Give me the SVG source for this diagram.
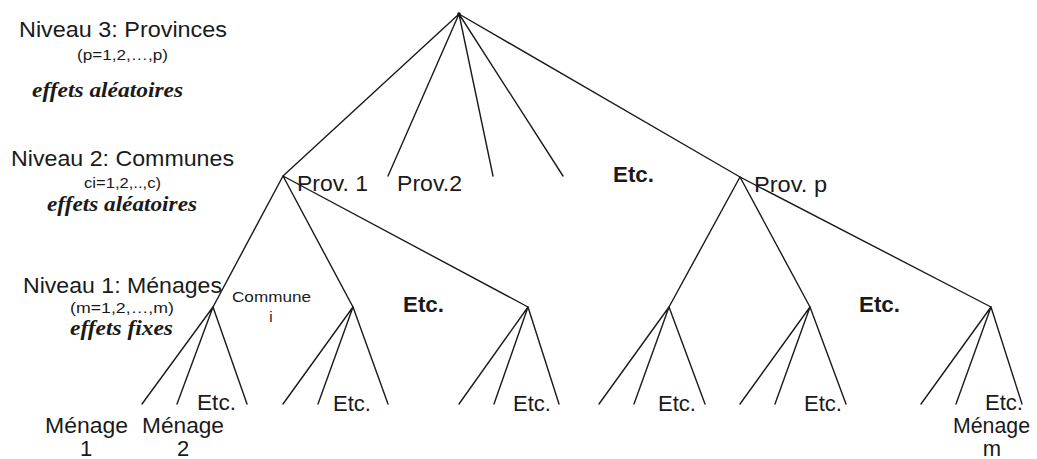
<svg xmlns="http://www.w3.org/2000/svg" width="1037" height="459" viewBox="0 0 1037 459">
<style>
.e{stroke:#1a1a1a;stroke-width:1.4;fill:none;stroke-linecap:round}
.t{font-family:"Liberation Sans",Arial,sans-serif;fill:#1a1a1a}
.l{font-size:22px}
.s{font-size:14px}
.c{font-size:15px}
.b{font-size:22px;font-weight:bold}
.r{font-family:"Liberation Serif","Times New Roman",serif;font-weight:bold;font-style:italic;font-size:20px;fill:#1a1a1a}
</style>
<rect width="1037" height="459" fill="#fff"/>
<g id="legend">
<text class="t l" x="19" y="37" textLength="208" lengthAdjust="spacingAndGlyphs">Niveau 3: Provinces</text>
<text class="t s" x="77" y="60" textLength="91" lengthAdjust="spacingAndGlyphs">(p=1,2,…,p)</text>
<text class="r" x="32" y="97" textLength="151" lengthAdjust="spacingAndGlyphs">effets aléatoires</text>
<text class="t l" x="11" y="166" textLength="223" lengthAdjust="spacingAndGlyphs">Niveau 2: Communes</text>
<text class="t s" x="84" y="188" textLength="77" lengthAdjust="spacingAndGlyphs">ci=1,2,..,c)</text>
<text class="r" x="47" y="211" textLength="150" lengthAdjust="spacingAndGlyphs">effets aléatoires</text>
<text class="t l" x="23" y="293" textLength="199" lengthAdjust="spacingAndGlyphs">Niveau 1: Ménages</text>
<text class="t s" x="70" y="313" textLength="104" lengthAdjust="spacingAndGlyphs">(m=1,2,…,m)</text>
<text class="r" x="70" y="335" textLength="103" lengthAdjust="spacingAndGlyphs">effets fixes</text>
</g>
<g id="connectors">
<path class="e" d="M459 14 L283 176 M459 14 L388 176 M459 14 L493 176 M459 14 L563 176 M459 14 L740 177"/>
<path class="e" d="M283 176 L213 307 M283 176 L353 307 M283 176 L528 307"/>
<path class="e" d="M740 177 L669 307 M740 177 L810 307 M740 177 L991 307"/>
<path class="e" d="M213 307 L142 404 M213 307 L177 404 M213 307 L247 404"/>
<path class="e" d="M353 307 L283 404 M353 307 L318 404 M353 307 L388 404"/>
<path class="e" d="M528 307 L459 404 M528 307 L494 404 M528 307 L559 404"/>
<path class="e" d="M669 307 L599 404 M669 307 L634 404 M669 307 L705 404"/>
<path class="e" d="M810 307 L740 404 M810 307 L775 404 M810 307 L846 404"/>
<path class="e" d="M991 307 L921 404 M991 307 L956 404 M991 307 L1022 404"/>
</g>
<g id="root"><circle cx="459" cy="14" r="1.8" fill="#111"/></g>
<g id="prov1"><text class="t l" x="297" y="191" textLength="71" lengthAdjust="spacingAndGlyphs">Prov. 1</text></g>
<g id="prov2"><text class="t l" x="397" y="191" textLength="65" lengthAdjust="spacingAndGlyphs">Prov.2</text></g>
<g id="provEtc"><text class="t b" x="613" y="182" textLength="41" lengthAdjust="spacingAndGlyphs">Etc.</text></g>
<g id="provp"><text class="t l" x="754" y="192" textLength="73" lengthAdjust="spacingAndGlyphs">Prov. p</text></g>
<g id="commune-i">
<text class="t c" x="232" y="302" textLength="79" lengthAdjust="spacingAndGlyphs">Commune</text>
<text class="t c" x="271" y="322" text-anchor="middle">i</text>
</g>
<g id="communeEtc1"><text class="t b" x="403" y="312" textLength="41" lengthAdjust="spacingAndGlyphs">Etc.</text></g>
<g id="communeEtc2"><text class="t b" x="859" y="312" textLength="41" lengthAdjust="spacingAndGlyphs">Etc.</text></g>
<g id="leafEtc">
<text class="t l" x="197" y="410" textLength="39" lengthAdjust="spacingAndGlyphs">Etc.</text>
<text class="t l" x="333" y="411" textLength="38" lengthAdjust="spacingAndGlyphs">Etc.</text>
<text class="t l" x="513" y="411" textLength="38" lengthAdjust="spacingAndGlyphs">Etc.</text>
<text class="t l" x="658" y="411" textLength="38" lengthAdjust="spacingAndGlyphs">Etc.</text>
<text class="t l" x="804" y="411" textLength="38" lengthAdjust="spacingAndGlyphs">Etc.</text>
<text class="t l" x="985" y="410" textLength="38" lengthAdjust="spacingAndGlyphs">Etc.</text>
</g>
<g id="menage1">
<text class="t l" x="45" y="433" textLength="83" lengthAdjust="spacingAndGlyphs">Ménage</text>
<text class="t l" x="86" y="456" text-anchor="middle">1</text>
</g>
<g id="menage2">
<text class="t l" x="142" y="433" textLength="82" lengthAdjust="spacingAndGlyphs">Ménage</text>
<text class="t l" x="183" y="456" text-anchor="middle">2</text>
</g>
<g id="menagem">
<text class="t l" x="953" y="433" textLength="77" lengthAdjust="spacingAndGlyphs">Ménage</text>
<text class="t l" x="992" y="456" text-anchor="middle">m</text>
</g>
</svg>
